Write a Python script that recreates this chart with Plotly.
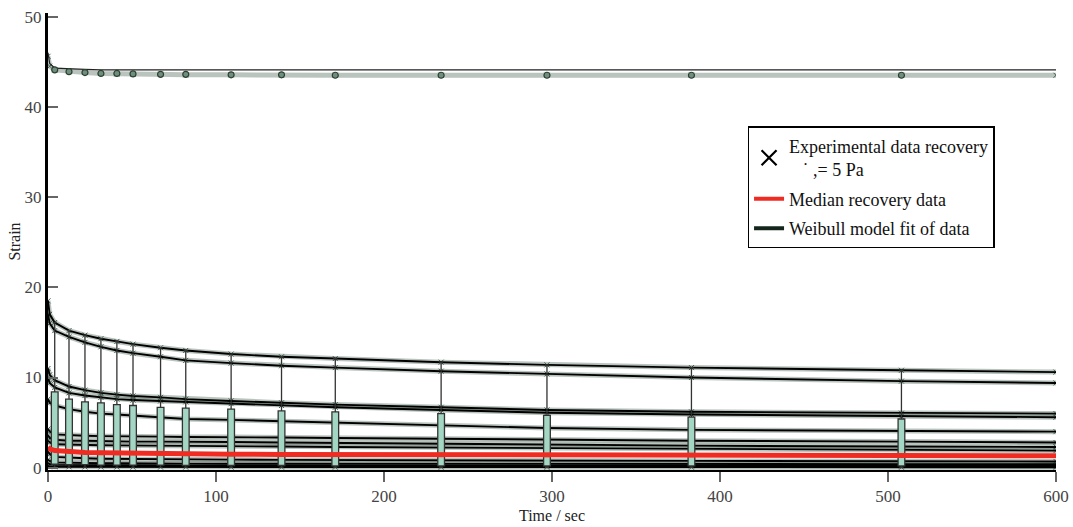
import plotly.graph_objects as go

# ---------------- data ----------------
time_s = [0, 1, 4, 12.5, 22, 31.5, 41, 50.6, 67, 82, 109, 139, 171, 234, 297, 383, 508, 600]

top_fit = [46.0, 44.8, 44.3, 44.2, 44.15, 44.1, 44.1, 44.1, 44.1, 44.1, 44.1, 44.1, 44.1, 44.1, 44.1, 44.1, 44.1, 44.1]
top_data = [45.6, 44.5, 44.1, 43.9, 43.8, 43.7, 43.65, 43.6, 43.6, 43.55, 43.55, 43.5, 43.5, 43.5, 43.5, 43.5, 43.5, 43.5]

fit_A = [18.5, 17.0, 16.1, 15.2, 14.7, 14.3, 14.0, 13.7, 13.3, 13.0, 12.6, 12.3, 12.1, 11.7, 11.4, 11.1, 10.8, 10.6]
fit_B = [17.0, 16.0, 15.2, 14.5, 13.9, 13.4, 13.0, 12.7, 12.3, 11.9, 11.6, 11.3, 11.1, 10.7, 10.4, 10.0, 9.6, 9.4]
fit_C = [11.0, 10.3, 9.7, 9.0, 8.6, 8.3, 8.1, 7.95, 7.8, 7.6, 7.4, 7.2, 7.0, 6.7, 6.4, 6.2, 6.05, 6.0]
fit_D = [10.0, 9.4, 8.9, 8.3, 8.0, 7.8, 7.6, 7.5, 7.4, 7.3, 7.1, 6.9, 6.7, 6.4, 6.1, 5.9, 5.7, 5.6]
fit_E = [7.6, 7.2, 6.9, 6.5, 6.2, 6.0, 5.9, 5.8, 5.6, 5.4, 5.3, 5.15, 5.0, 4.7, 4.4, 4.2, 4.05, 4.0]
fit_F = [4.3, 4.0, 3.7, 3.6, 3.55, 3.5, 3.5, 3.45, 3.45, 3.4, 3.4, 3.35, 3.3, 3.2, 3.1, 3.0, 2.9, 2.8]
fit_G = [3.6, 3.3, 3.1, 3.0, 3.0, 2.95, 2.95, 2.9, 2.9, 2.9, 2.85, 2.8, 2.75, 2.65, 2.55, 2.45, 2.35, 2.3]
fit_H = [3.0, 2.8, 2.6, 2.55, 2.5, 2.5, 2.48, 2.46, 2.45, 2.44, 2.4, 2.35, 2.3, 2.25, 2.2, 2.1, 2.0, 1.9]
fit_I = [1.8, 1.5, 1.2, 1.1, 1.05, 1.0, 0.98, 0.96, 0.94, 0.92, 0.9, 0.87, 0.85, 0.82, 0.8, 0.76, 0.72, 0.7]
fit_J = [0.9, 0.75, 0.6, 0.55, 0.52, 0.5, 0.5, 0.48, 0.47, 0.46, 0.45, 0.44, 0.43, 0.42, 0.41, 0.4, 0.4, 0.4]
fit_K = [0.5, 0.4, 0.32, 0.3, 0.28, 0.27, 0.26, 0.25, 0.25, 0.24, 0.23, 0.22, 0.22, 0.21, 0.2, 0.2, 0.2, 0.2]
fit_L = [0.2, 0.15, 0.1, 0.1, 0.09, 0.08, 0.08, 0.07, 0.07, 0.07, 0.06, 0.06, 0.06, 0.05, 0.05, 0.05, 0.05, 0.05]

median_recovery = [2.3, 2.1, 1.9, 1.75, 1.7, 1.65, 1.62, 1.6, 1.55, 1.52, 1.5, 1.48, 1.46, 1.42, 1.4, 1.37, 1.35, 1.33]

box_time = [4, 12.5, 22, 31.5, 41, 50.6, 67, 82, 109, 139, 171, 234, 297, 383, 508]
box_q1 = [0.4, 0.35, 0.35, 0.3, 0.3, 0.3, 0.3, 0.25, 0.25, 0.25, 0.2, 0.2, 0.2, 0.2, 0.2]
box_median = [1.9, 1.75, 1.7, 1.65, 1.62, 1.6, 1.55, 1.52, 1.5, 1.48, 1.46, 1.42, 1.4, 1.37, 1.35]
box_q3 = [8.4, 7.6, 7.3, 7.2, 7.0, 6.9, 6.7, 6.6, 6.5, 6.3, 6.2, 6.0, 5.8, 5.6, 5.4]
box_low = [0.05, 0.05, 0.05, 0.05, 0.05, 0.05, 0.05, 0.05, 0.05, 0.05, 0.05, 0.05, 0.05, 0.05, 0.05]
box_high = [16.1, 15.2, 14.7, 14.3, 14.0, 13.7, 13.3, 13.0, 12.6, 12.3, 12.1, 11.7, 11.4, 11.1, 10.8]
top_box_median = [44.1, 43.9, 43.8, 43.7, 43.7, 43.65, 43.6, 43.6, 43.55, 43.55, 43.5, 43.5, 43.5, 43.5, 43.5]

x_ticks = [0, 100, 200, 300, 400, 500, 600]
y_ticks = [0, 10, 20, 30, 40, 50]

fits = [fit_A, fit_B, fit_C, fit_D, fit_E, fit_F, fit_G, fit_H, fit_I, fit_J, fit_K, fit_L]

# ---------------- styles ----------------
FONT = "Liberation Serif"
BAND = "rgba(45,75,58,0.33)"
MARK = "#3f5f4c"
BOXFILL = "#a3d6c3"

fig = go.Figure()

# legend-only entries
fig.add_trace(go.Scatter(x=[None], y=[None], mode="markers",
                         name="Experimental data recovery<br>\u00a0\u00a0\u00a0\u02d9\u00a0,= 5 Pa",
                         marker=dict(symbol="x-thin-open", size=15, color="black",
                                     line=dict(color="black", width=2.2)),
                         legendgroup="a"))
fig.add_trace(go.Scatter(x=[None], y=[None], mode="lines", name="Median recovery data",
                         line=dict(color="#ef2b22", width=4), legendgroup="b"))
fig.add_trace(go.Scatter(x=[None], y=[None], mode="lines", name="Weibull model fit of data",
                         line=dict(color="#14261c", width=4), legendgroup="c"))

# experimental data: textured band + x markers
for series in fits + [top_data]:
    fig.add_trace(go.Scatter(x=time_s, y=series, mode="lines+markers", showlegend=False,
                             line=dict(color=BAND, width=5),
                             marker=dict(symbol="x-thin-open", size=5, color=MARK,
                                         line=dict(color=MARK, width=1)),
                             hoverinfo="skip"))

# Weibull fits
for series in fits:
    fig.add_trace(go.Scatter(x=time_s, y=series, mode="lines", showlegend=False,
                             line=dict(color="black", width=1.9)))
fig.add_trace(go.Scatter(x=time_s, y=top_fit, mode="lines", showlegend=False,
                         line=dict(color="#222", width=1.2)))

# overlay: box plots, top circles, median line
fig.add_trace(go.Box(x=box_time, q1=box_q1, median=box_median, q3=box_q3,
                     lowerfence=box_low, upperfence=box_high,
                     width=4, whiskerwidth=0.6, boxpoints=False,
                     fillcolor=BOXFILL, line=dict(color="#333333", width=1.3),
                     showlegend=False, xaxis="x2", yaxis="y2"))
fig.add_trace(go.Scatter(x=box_time, y=top_box_median, mode="markers", showlegend=False,
                         marker=dict(symbol="circle", size=6, color="#6f8f7c",
                                     line=dict(color="#2c4034", width=1.2)),
                         xaxis="x2", yaxis="y2"))
fig.add_trace(go.Scatter(x=time_s, y=median_recovery, mode="lines", showlegend=False,
                         line=dict(color="#ef2b22", width=5), xaxis="x2", yaxis="y2"))

XR = [0, 600]
YR = [-0.25, 50.4]

fig.update_layout(
    width=1073, height=527,
    margin=dict(l=48, r=17, t=13, b=57),
    paper_bgcolor="white", plot_bgcolor="white",
    font=dict(family=FONT, size=17, color="#333"),
    xaxis=dict(range=XR, tickvals=x_ticks, ticks="outside", ticklen=10, tickwidth=1.5,
               tickcolor="#666", showgrid=False, zeroline=False, automargin=False,
               showline=True, linecolor="black", linewidth=2,
               title=dict(text="Time / sec", font=dict(family=FONT, size=16, color="#222"), standoff=4),
               tickfont=dict(family=FONT, size=17, color="#444")),
    yaxis=dict(range=YR, tickvals=y_ticks, ticks="inside", ticklen=10, tickwidth=1.5,
               tickcolor="#666", showgrid=False, zeroline=False, automargin=False,
               showline=True, linecolor="black", linewidth=3,
               title=dict(text="Strain", font=dict(family=FONT, size=16, color="#222"), standoff=0),
               tickfont=dict(family=FONT, size=17, color="#444")),
    xaxis2=dict(range=XR, overlaying="x", visible=False),
    yaxis2=dict(range=YR, overlaying="y", visible=False),
    legend=dict(x=0.694, y=0.752, xanchor="left", yanchor="top",
                bordercolor="black", borderwidth=1.5, bgcolor="white",
                font=dict(family=FONT, size=18, color="#111"),
                tracegroupgap=3, itemwidth=30),
    boxmode="overlay",
)

fig.write_html("out.html")
